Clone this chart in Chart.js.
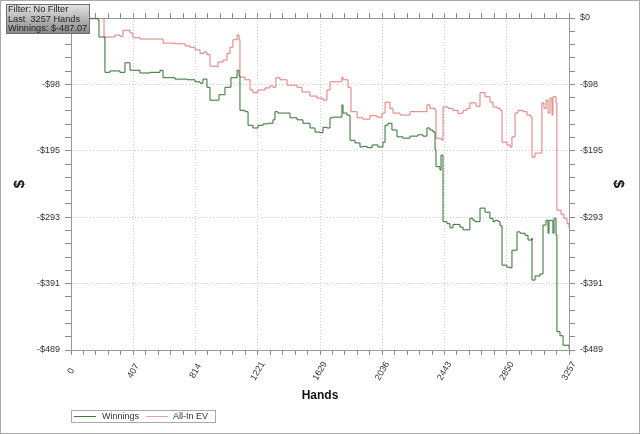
<!DOCTYPE html>
<html>
<head>
<meta charset="utf-8">
<script src="https://cdn.jsdelivr.net/npm/chart.js@4.4.1/dist/chart.umd.min.js"></script>
<style>
  body { margin: 0; background: #fff; }
  #wrap { position: relative; width: 640px; height: 434px; }
  #frame { position: absolute; left: 0; top: 0; width: 640px; height: 434px; border: 1px solid #aaa; box-sizing: border-box; pointer-events: none; }
  #info { position: absolute; left: 6px; top: 4px; width: 84px; height: 30px; box-sizing: border-box;
          border: 1px solid #6e6e6e; background: linear-gradient(#e2e2e2, #8a8a8a);
          font: 9.2px "Liberation Sans", Arial, sans-serif; color: #222; line-height: 9.6px;
          padding: 0 0 0 1px; white-space: pre; }
  #legend { position: absolute; left: 71px; top: 410px; width: 145px; height: 13px; box-sizing: border-box;
            border: 1px solid #aaa; font: 9px "Liberation Sans", Arial, sans-serif; color: #333; }
  #legend .ln { position: absolute; top: 5px; height: 1px; width: 22px; }
  #legend .tx { position: absolute; top: 0px; line-height: 11px; }
</style>
</head>
<body>
<div id="wrap">
  <canvas id="chart"></canvas>
  <div id="info">Filter: No Filter
Last  3257 Hands
Winnings: $-487.07</div>
  <div id="legend">
    <span class="ln" style="left:2px;background:#3d7a3d"></span><span class="tx" style="left:30px">Winnings</span>
    <span class="ln" style="left:74px;background:#e8a0a0"></span><span class="tx" style="left:101px">All-In EV</span>
  </div>
  <div id="frame"></div>
</div>
<script>
// hands played vs dollars
const winHands = [0,118,177,183,183,209,222,255,320,353,373,386,451,517,582,602,680,759,811,844,863,889,909,955,968,994,1007,1027,1046,1066,1086,1099,1105,1138,1158,1190,1223,1256,1288,1321,1334,1353,1386,1432,1478,1517,1563,1596,1628,1648,1674,1694,1714,1759,1772,1779,1805,1825,1857,1890,1910,1936,1969,2008,2040,2054,2073,2099,2132,2171,2217,2269,2302,2328,2348,2367,2381,2387,2413,2420,2433,2433,2459,2479,2498,2524,2544,2564,2590,2609,2629,2642,2675,2708,2740,2760,2773,2793,2806,2819,2851,2871,2884,2917,2937,2969,2989,3015,3015,3035,3067,3087,3107,3120,3126,3152,3159,3172,3178,3198,3218,3257]
const winValues = [0,-1,-3,-3,-28,-28,-80,-78,-80,-66,-66,-77,-81,-80,-77,-88,-90,-91,-94,-96,-90,-102,-121,-121,-113,-113,-102,-102,-88,-88,-77,-85,-136,-138,-158,-162,-158,-156,-155,-150,-138,-140,-140,-147,-150,-155,-162,-168,-169,-161,-162,-147,-146,-146,-128,-140,-143,-180,-184,-190,-189,-191,-187,-190,-183,-158,-155,-165,-175,-177,-174,-172,-174,-162,-165,-168,-194,-219,-224,-202,-202,-300,-303,-309,-304,-304,-308,-312,-312,-295,-298,-300,-280,-286,-295,-300,-298,-300,-306,-364,-367,-368,-342,-315,-317,-320,-327,-324,-386,-380,-377,-305,-298,-317,-298,-317,-295,-320,-462,-468,-482,-487.07]

const evHands = [0,183,209,216,222,288,320,340,366,386,405,451,517,582,602,680,746,778,811,844,870,889,909,955,961,994,1020,1040,1059,1086,1099,1105,1138,1171,1190,1223,1269,1301,1321,1340,1367,1413,1478,1511,1563,1609,1648,1674,1694,1740,1772,1779,1812,1831,1871,1910,1955,2001,2034,2054,2086,2106,2152,2197,2217,2263,2315,2328,2348,2381,2387,2413,2426,2433,2466,2498,2531,2551,2564,2590,2609,2649,2675,2708,2740,2760,2786,2806,2819,2851,2871,2884,2904,2923,2956,2982,3008,3015,3035,3067,3080,3093,3107,3120,3133,3146,3152,3172,3178,3205,3224,3244,3257]
const evValues = [0,0,0,-29,-28,-25,-27,-18,-18,-22,-29,-31,-31,-31,-37,-38,-41,-43,-47,-52,-50,-54,-71,-72,-65,-62,-52,-43,-32,-25,-32,-87,-91,-106,-110,-106,-103,-100,-102,-88,-91,-99,-102,-109,-115,-118,-121,-106,-94,-94,-87,-91,-102,-138,-147,-149,-144,-146,-140,-124,-133,-140,-143,-143,-138,-138,-138,-128,-133,-136,-177,-178,-180,-131,-133,-136,-141,-140,-136,-133,-125,-130,-110,-116,-124,-131,-133,-136,-183,-187,-190,-175,-140,-136,-138,-143,-146,-205,-199,-199,-125,-133,-121,-140,-118,-143,-116,-125,-283,-289,-295,-303,-309]

const xTickLabels = ['0','407','814','1221','1629','2036','2443','2850','3257']
const yTickLabels = ['-$489','-$391','-$293','-$195','-$98','$0']  // bottom to top
const xMax = 3257
const yMin = -489
const minorPerMajor = 5

const tickFont = { family: '"Liberation Sans", Arial, sans-serif', size: 9 }

// major + minor ticks, minor ones get no label and no grid line
const xTicks = (scale) => {
  let n = (xTickLabels.length - 1) * minorPerMajor
  let list = []
  for (let k = 0; k <= n; k++) list.push({ value: xMax * k / n, major: k % minorPerMajor === 0 })
  scale.ticks = list
}
const yTicks = (scale) => {
  let n = (yTickLabels.length - 1) * minorPerMajor
  let list = []
  for (let k = 0; k <= n; k++) list.push({ value: yMin - yMin * k / n, major: k % minorPerMajor === 0 })
  scale.ticks = list
}
const yLabel = (value, index, ticks) => ticks[index].major ? yTickLabels[index / minorPerMajor] : ''
const gridColor = (c) => (c.tick && c.tick.major) ? '#cfcfcf' : 'rgba(0,0,0,0)'

const xLabels = {
  id: 'xLabels',
  afterDraw(chart) {
    const sc = chart.scales.x
    const ctx = chart.ctx
    ctx.save()
    ctx.font = '9px "Liberation Sans", Arial, sans-serif'
    ctx.fillStyle = '#333'
    ctx.textAlign = 'center'
    ctx.textBaseline = 'middle'
    xTickLabels.forEach((t, i) => {
      let px = sc.getPixelForValue(xMax * i / (xTickLabels.length - 1))
      ctx.save()
      ctx.translate(px, sc.top + 21)
      ctx.rotate(-Math.PI / 3)
      ctx.fillText(t, 0, 0)
      ctx.restore()
    })
    ctx.restore()
  }
}

const axisBase = {
  type: 'linear',
  border: { color: '#9a9a9a', dash: [1, 2] },
}

new Chart(document.getElementById('chart'), {
  type: 'line',
  data: {
    datasets: [
      {
        label: 'Winnings',
        data: winHands.map((h, i) => ({ x: h, y: winValues[i] })),
        borderColor: '#2f6f2f',
        borderWidth: 1,
        pointRadius: 0,
        stepped: 'before',
        fill: false
      },
      {
        label: 'All-In EV',
        data: evHands.map((h, i) => ({ x: h, y: evValues[i] })),
        borderColor: '#e07a7a',
        borderWidth: 1,
        pointRadius: 0,
        stepped: 'before',
        fill: false
      }
    ]
  },
  options: {
    responsive: true,
    maintainAspectRatio: false,
    animation: false,
    layout: { padding: { top: 12, bottom: 26.8, left: 0, right: 0 } },
    plugins: { legend: { display: false }, tooltip: { enabled: false } },
    scales: {
      x: {
        ...axisBase,
        position: 'bottom',
        min: 0, max: xMax,
        afterBuildTicks: xTicks,
        afterFit: (s) => { s.height = 57.2 },
        grid: { color: gridColor, tickColor: '#8a8a8a', tickLength: 5 },
        ticks: { display: false },
        title: { display: true, text: 'Hands', color: '#111', padding: { top: 0, bottom: 4 },
                 font: { family: '"Liberation Sans", Arial, sans-serif', size: 12, weight: 'bold' } }
      },
      x2: {
        ...axisBase,
        position: 'top',
        min: 0, max: xMax,
        afterBuildTicks: xTicks,
        afterFit: (s) => { s.height = 6 },
        grid: { drawOnChartArea: false, tickColor: '#8a8a8a', tickLength: 5 },
        ticks: { display: false }
      },
      y: {
        ...axisBase,
        position: 'left',
        min: yMin, max: 0,
        afterBuildTicks: yTicks,
        afterFit: (s) => { s.width = 71 },
        grid: { color: gridColor, tickColor: '#8a8a8a', tickLength: 6 },
        ticks: { autoSkip: false, padding: 5, color: '#333', font: tickFont, callback: yLabel },
        title: { display: true, text: '$', color: '#111', padding: { top: 11, bottom: 0 },
                 font: { family: '"Liberation Sans", Arial, sans-serif', size: 15, weight: 'bold' } }
      },
      y2: {
        ...axisBase,
        position: 'right',
        min: yMin, max: 0,
        afterBuildTicks: yTicks,
        afterFit: (s) => { s.width = 71 },
        grid: { drawOnChartArea: false, tickColor: '#8a8a8a', tickLength: 6 },
        ticks: { autoSkip: false, padding: 5, color: '#333', font: tickFont, callback: yLabel },
        title: { display: true, text: '$', color: '#111', padding: { top: 13, bottom: 0 },
                 font: { family: '"Liberation Sans", Arial, sans-serif', size: 15, weight: 'bold' } }
      }
    }
  },
  plugins: [xLabels]
})
</script>
</body>
</html>
